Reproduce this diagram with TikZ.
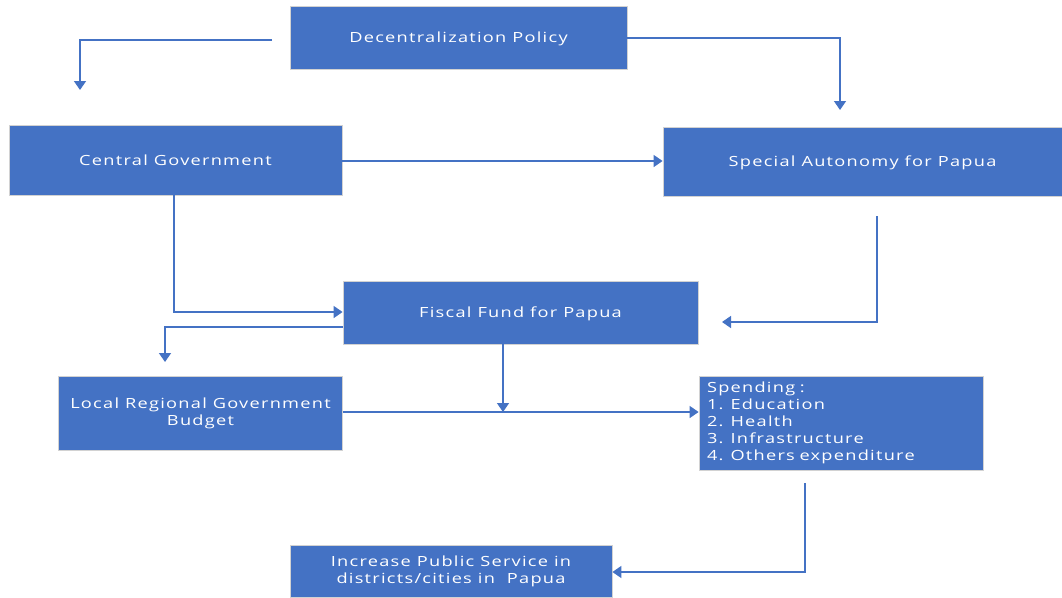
\documentclass[tikz,border=0pt]{standalone}
\usepackage{fontspec}
\setmainfont[FakeStretch=1.3,LetterSpace=9]{Open Sans}
\usetikzlibrary{arrows.meta}
\definecolor{boxblue}{HTML}{4472C4}
\begin{document}
\begin{tikzpicture}[x=1pt,y=-1pt,
    box/.style={rectangle, fill=boxblue, draw=gray!35, line width=0.8pt,
      text=white, font=\fontsize{14}{17}\selectfont, inner sep=0pt, align=center},
    oneline/.style={text depth=0pt},
    flow/.style={draw=boxblue, line width=1.5pt,
      -{Triangle[width=12pt,length=9pt]}}]
  \useasboundingbox (0,0) rectangle (1062,597);
  \node[box, oneline, minimum width=337pt, minimum height=63pt] (dec) at (458.5,37.5) {Decentralization Policy};
  \node[box, oneline, minimum width=333pt, minimum height=70pt] (central) at (175.5,160) {Central Government};
  \node[box, oneline, minimum width=399pt, minimum height=69pt] (special) at (862.5,161.5) {Special Autonomy for Papua};
  \node[box, oneline, minimum width=355pt, minimum height=63pt] (fiscal) at (520.5,312.5) {Fiscal Fund for Papua};
  \node[box, minimum width=284pt, minimum height=74pt] (local) at (200.5,413.5) {Local Regional Government\\Budget};
  \node[box, text width=268pt, inner xsep=8pt, inner ysep=0pt, minimum height=94pt, align=left] (spend) at (841,423)
    {Spending :\\1. Education\\2. Health\\3. Infrastructure\\4. Others expenditure};
  \node[box, minimum width=322pt, minimum height=52pt] (increase) at (451,571.5) {Increase Public Service in\\districts/cities in\ \ Papua};
  \coordinate (c1) at (272,40);
  \coordinate (c2) at (80,90);
  \coordinate (c3) at (840,110);
  \coordinate (c4) at (877,216);
  \coordinate (c5) at (722,322);
  \coordinate (c6) at (165,362);
  \coordinate (c7) at (805,483);
  \begin{scope}
    \draw[flow] (c1) -| (c2);
    \draw[flow] (dec.east |- 0,38) -| (c3);
    \draw[flow] (central.east |- 0,161) -- (special.west |- 0,161);
    \draw[flow] (central.south -| 174,0) |- (fiscal.west |- 0,312);
    \draw[flow] (c4) |- (c5);
    \draw[flow] (fiscal.west |- 0,327) -| (c6);
    \draw[flow] (fiscal.south -| 503,0) -- (503,412);
    \draw[flow] (local.east |- 0,412) -- (spend.west |- 0,412);
    \draw[flow] (c7) |- (increase.east |- 0,572);
  \end{scope}
\end{tikzpicture}
\end{document}
